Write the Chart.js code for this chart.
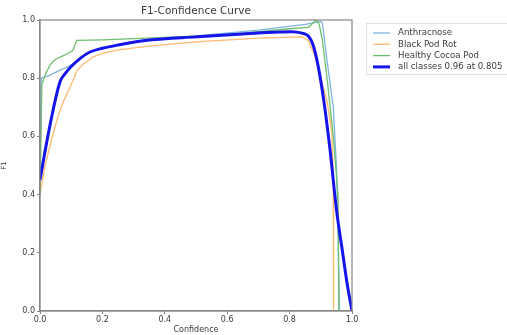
<!DOCTYPE html>
<html>
<head>
<meta charset="utf-8">
<script src="https://cdn.jsdelivr.net/npm/chart.js@4/dist/chart.umd.min.js"></script>
<style>
  html, body { margin: 0; padding: 0; background: #fff; }
  #wrap { width: 507px; height: 335px; position: relative; }
</style>
</head>
<body>
<div id="wrap"><canvas id="curvaF1"></canvas></div>
<script>
// valores (confiança x F1)
const anthracnoseConf = [0, 0.004, 0.03, 0.06, 0.09, 0.12, 0.15, 0.2, 0.3, 0.5, 0.7, 0.85, 0.9, 0.905, 0.92, 0.94, 0.95, 0.955, 0.96];
const anthracnoseF1   = [0.45, 0.80, 0.81, 0.825, 0.84, 0.858, 0.885, 0.905, 0.925, 0.945, 0.965, 0.985, 0.995, 0.99, 0.86, 0.70, 0.50, 0.30, 0.0];

const blackPodConf = [0, 0.016, 0.04, 0.058, 0.075, 0.09, 0.105, 0.118, 0.14, 0.17, 0.2, 0.25, 0.35, 0.5, 0.7, 0.84, 0.86, 0.88, 0.9, 0.92, 0.935, 0.94, 0.941];
const blackPodF1   = [0.40, 0.50, 0.60, 0.67, 0.72, 0.755, 0.79, 0.825, 0.85, 0.873, 0.885, 0.897, 0.91, 0.925, 0.938, 0.942, 0.93, 0.88, 0.80, 0.72, 0.62, 0.45, 0.0];

const healthyConf = [0, 0.006, 0.02, 0.035, 0.05, 0.07, 0.09, 0.105, 0.118, 0.2, 0.4, 0.6, 0.8, 0.86, 0.875, 0.885, 0.895, 0.905, 0.92, 0.94, 0.955, 0.958];
const healthyF1   = [0.40, 0.78, 0.82, 0.85, 0.865, 0.875, 0.885, 0.895, 0.93, 0.932, 0.94, 0.95, 0.97, 0.975, 0.99, 1.0, 0.985, 0.93, 0.80, 0.60, 0.40, 0.0];

const allConf = [0, 0.025, 0.05, 0.065, 0.08, 0.1, 0.13, 0.16, 0.2, 0.25, 0.35, 0.5, 0.7, 0.805, 0.84, 0.86, 0.875, 0.89, 0.91, 0.93, 0.95, 0.97, 0.985, 1.0];
const allF1   = [0.45, 0.60, 0.73, 0.79, 0.815, 0.84, 0.869, 0.89, 0.903, 0.914, 0.931, 0.942, 0.955, 0.96, 0.955, 0.945, 0.915, 0.85, 0.72, 0.55, 0.35, 0.20, 0.09, 0.0];

const tickLabels = ['0.0', '0.2', '0.4', '0.6', '0.8', '1.0'];

function pontos(xs, ys) {
    return xs.map((x, i) => ({ x: x, y: ys[i] }));
}

const corTexto = '#3a3a3a';
const corEixo = '#858585';

// moldura do grafico + titulo + legenda estilo matplotlib
const molduraPlugin = {
    id: 'moldura',
    afterDraw(chart) {
        const ctx = chart.ctx;
        const a = chart.chartArea;
        ctx.save();
        ctx.strokeStyle = corEixo;
        ctx.lineWidth = 1.2;
        ctx.strokeRect(a.left, a.top, a.right - a.left, a.bottom - a.top);

        ctx.fillStyle = corTexto;
        ctx.font = '10.5px "DejaVu Sans"';
        ctx.textAlign = 'center';
        ctx.textBaseline = 'middle';
        ctx.fillText('F1-Confidence Curve', (a.left + a.right) / 2, 11);

        // legenda
        const lx = 366, ly = 23, lw = 145, lh = 51;
        ctx.strokeStyle = '#e2e2e2';
        ctx.lineWidth = 1;
        ctx.fillStyle = 'rgba(255,255,255,0.9)';
        ctx.fillRect(lx, ly, lw, lh);
        ctx.strokeRect(lx + 0.5, ly + 0.5, lw, lh);
        ctx.font = '8.6px "DejaVu Sans"';
        ctx.textAlign = 'left';
        chart.data.datasets.forEach((ds, i) => {
            const y = ly + 10 + i * 11.3;
            ctx.strokeStyle = ds.borderColor;
            ctx.lineWidth = ds.borderWidth;
            ctx.beginPath();
            ctx.moveTo(373, y);
            ctx.lineTo(390, y);
            ctx.stroke();
            ctx.fillStyle = corTexto;
            ctx.fillText(ds.label, 398, y);
        });
        ctx.restore();
    }
};

const ctx = document.getElementById('curvaF1');
new Chart(ctx.getContext('2d'), {
    type: 'line',
    data: {
        datasets: [
            { label: 'Anthracnose', data: pontos(anthracnoseConf, anthracnoseF1), borderColor: 'rgb(125,180,222)', borderWidth: 1.3, order: 3 },
            { label: 'Black Pod Rot', data: pontos(blackPodConf, blackPodF1), borderColor: 'rgb(255,185,110)', borderWidth: 1.3, order: 2 },
            { label: 'Healthy Cocoa Pod', data: pontos(healthyConf, healthyF1), borderColor: 'rgb(110,190,110)', borderWidth: 1.3, order: 1 },
            { label: 'all classes 0.96 at 0.805', data: pontos(allConf, allF1), borderColor: 'rgb(20,20,235)', borderWidth: 3, order: 0, cubicInterpolationMode: 'monotone' }
        ]
    },
    options: {
        responsive: true,
        maintainAspectRatio: false,
        animation: false,
        elements: { point: { radius: 0 }, line: { tension: 0 } },
        layout: { padding: { top: 20, right: 155, left: 0, bottom: 0 } },
        plugins: {
            legend: { display: false },
            tooltip: { enabled: false }
        },
        scales: {
            x: {
                type: 'linear',
                min: 0, max: 1,
                afterFit: (s) => { s.height = 24; },
                grid: { display: true, drawOnChartArea: false, drawTicks: true, tickLength: 3, color: corEixo },
                border: { color: corEixo, width: 1.2 },
                ticks: {
                    stepSize: 0.2, padding: 1, color: corTexto,
                    font: { family: 'DejaVu Sans', size: 8 },
                    callback: (v, i) => tickLabels[i]
                },
                title: { display: true, text: 'Confidence', color: corTexto, font: { family: 'DejaVu Sans', size: 8 }, padding: { top: 0, bottom: 0 } }
            },
            y: {
                type: 'linear',
                min: 0, max: 1,
                afterFit: (s) => { s.width = 40; },
                grid: { display: true, drawOnChartArea: false, drawTicks: true, tickLength: 3, color: corEixo },
                border: { color: corEixo, width: 1.2 },
                ticks: {
                    stepSize: 0.2, padding: 2, color: corTexto,
                    font: { family: 'DejaVu Sans', size: 8 },
                    callback: (v, i) => tickLabels[i]
                },
                title: { display: true, text: 'F1', color: corTexto, font: { family: 'DejaVu Sans', size: 7 }, padding: { top: 0, bottom: 4 } }
            }
        }
    },
    plugins: [molduraPlugin]
});
</script>
</body>
</html>
